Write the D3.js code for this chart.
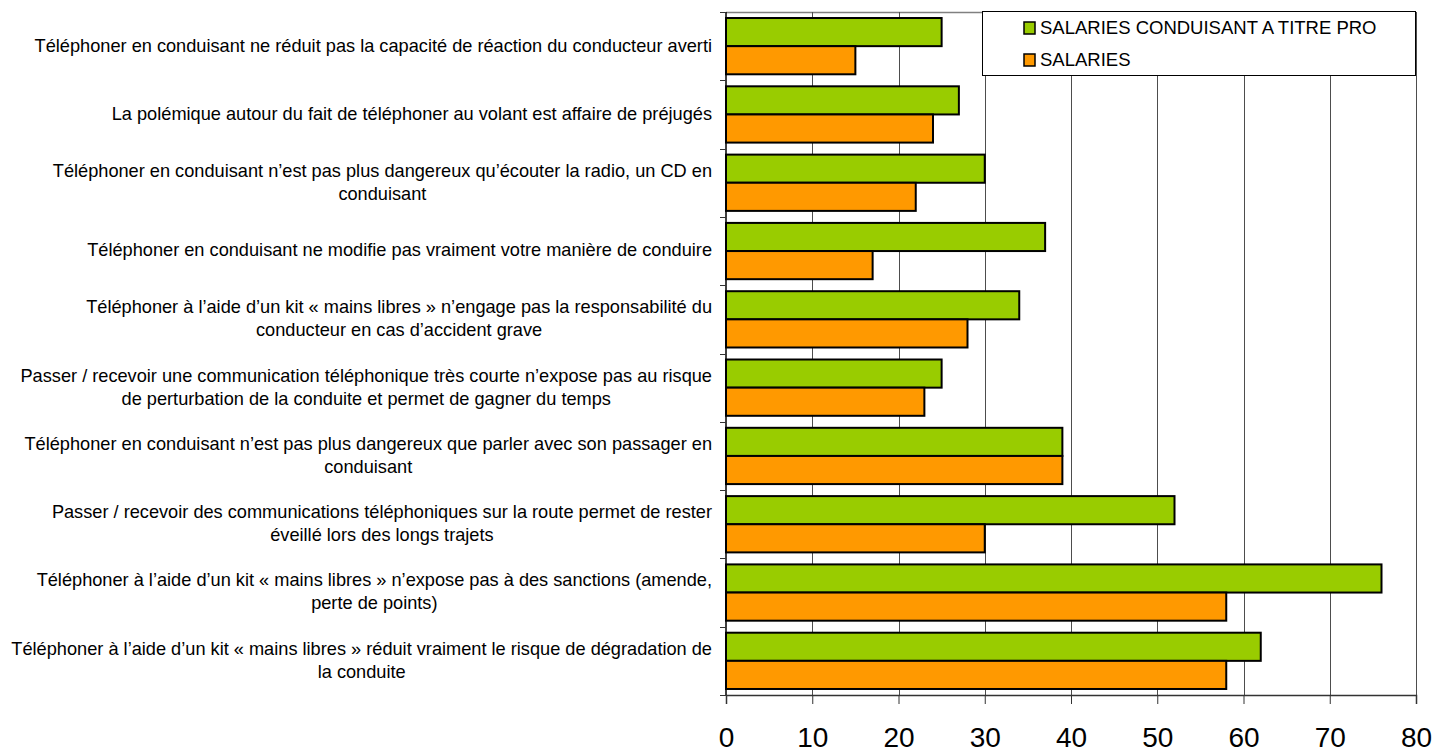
<!DOCTYPE html>
<html>
<head>
<meta charset="utf-8">
<script src="https://cdn.jsdelivr.net/npm/d3@7"></script>
<style>
  html, body { margin: 0; padding: 0; background: #fff; }
  svg { display: block; font-family: "Liberation Sans", Arial, sans-serif; }
</style>
</head>
<body>
<svg id="chart" width="1437" height="754"></svg>
<script>
// Survey statements (top to bottom), each split into its display lines
const statements = [
  ["Téléphoner en conduisant ne réduit pas la capacité de réaction du conducteur averti"],
  ["La polémique autour du fait de téléphoner au volant est affaire de préjugés"],
  ["Téléphoner en conduisant n’est pas plus dangereux qu’écouter la radio, un CD en", "conduisant"],
  ["Téléphoner en conduisant ne modifie pas vraiment votre manière de conduire"],
  ["Téléphoner à l’aide d’un kit « mains libres » n’engage pas la responsabilité du", "conducteur en cas d’accident grave"],
  ["Passer / recevoir une communication téléphonique très courte n’expose pas au risque", "de perturbation de la conduite et permet de gagner du temps"],
  ["Téléphoner en conduisant n’est pas plus dangereux que parler avec son passager en", "conduisant"],
  ["Passer / recevoir des communications téléphoniques sur la route permet de rester", "éveillé lors des longs trajets"],
  ["Téléphoner à l’aide d’un kit « mains libres » n’expose pas à des sanctions (amende,", "perte de points)"],
  ["Téléphoner à l’aide d’un kit « mains libres » réduit vraiment le risque de dégradation de", "la conduite"]
];

const seriesNames = ["SALARIES CONDUISANT A TITRE PRO", "SALARIES"];
const proValues = [25, 27, 30, 37, 34, 25, 39, 52, 76, 62];
const salariesValues = [15, 24, 22, 17, 28, 23, 39, 30, 58, 58];
const xTicks = [0, 10, 20, 30, 40, 50, 60, 70, 80];

const colors = ["#99cc00", "#ff9900"];

const plot = { left: 726, right: 1416, top: 12, bottom: 695 };
const svg = d3.select("#chart");

const x = d3.scaleLinear().domain([0, 80]).range([plot.left, plot.right]);
const y = d3.scaleBand()
  .domain(d3.range(statements.length))
  .range([plot.top, plot.bottom])
  .paddingInner(0.176)
  .paddingOuter(0.088);
const ySub = d3.scaleBand().domain([0, 1]).range([0, y.bandwidth()]);

// Plot frame top edge
svg.append("line")
  .attr("x1", plot.left).attr("x2", plot.right)
  .attr("y1", plot.top + 0.5).attr("y2", plot.top + 0.5)
  .attr("stroke", "#808080").attr("stroke-width", 1.5);

// Vertical gridlines
svg.append("g")
  .selectAll("line")
  .data(xTicks.filter(d => d > 0))
  .join("line")
  .attr("x1", d => Math.round(x(d)) + 0.5)
  .attr("x2", d => Math.round(x(d)) + 0.5)
  .attr("y1", plot.top)
  .attr("y2", plot.bottom)
  .attr("stroke", "#4d4d4d")
  .attr("stroke-width", 1);

// Bars
const series = [proValues, salariesValues];
const groups = svg.append("g")
  .selectAll("g")
  .data(statements)
  .join("g")
  .attr("transform", (d, i) => `translate(0,${y(i)})`);

groups.each(function (d, i) {
  d3.select(this).selectAll("rect")
    .data(series.map((vals, s) => ({ s, v: vals[i] })))
    .join("rect")
    .attr("x", x(0))
    .attr("y", e => ySub(e.s))
    .attr("width", e => x(e.v) - x(0))
    .attr("height", ySub.bandwidth())
    .attr("fill", e => colors[e.s])
    .attr("stroke", "#000")
    .attr("stroke-width", 2);
});

// X axis
const xAxis = d3.axisBottom(x).tickValues(xTicks).tickSize(9).tickFormat(d3.format("d"));
const gx = svg.append("g")
  .attr("transform", `translate(0,${plot.bottom})`)
  .call(xAxis);
gx.select(".domain").attr("stroke", "#333").attr("stroke-width", 1.5);
gx.selectAll(".tick line").attr("stroke", "#333");
gx.selectAll(".tick text")
  .attr("y", 52)
  .attr("dy", 0)
  .attr("fill", "#000")
  .attr("font-size", 28)
  .attr("font-family", "'Liberation Sans', Arial, sans-serif");

// Y axis line with category separators
const yBoundaries = d3.range(statements.length + 1).map(i =>
  i === 0 ? plot.top : i === statements.length ? plot.bottom :
  (y(i - 1) + y.bandwidth() + y(i)) / 2);
svg.append("line")
  .attr("x1", plot.left).attr("x2", plot.left)
  .attr("y1", plot.top).attr("y2", plot.bottom)
  .attr("stroke", "#000").attr("stroke-width", 1.5);
svg.append("g")
  .selectAll("line")
  .data(yBoundaries)
  .join("line")
  .attr("x1", plot.left - 6).attr("x2", plot.left)
  .attr("y1", d => Math.round(d) + 0.5).attr("y2", d => Math.round(d) + 0.5)
  .attr("stroke", "#333");

// Category labels: block right-aligned to the axis, lines centred within the block
const labelRight = 712;
const lineHeight = 23;
const labels = svg.append("g").attr("font-size", 18.2).attr("fill", "#000");
statements.forEach((lines, i) => {
  const cy = y(i) + y.bandwidth() / 2 - 1;
  const g = labels.append("g");
  const texts = lines.map((t, k) => g.append("text")
    .attr("y", cy + (k - (lines.length - 1) / 2) * lineHeight)
    .attr("dy", "0.35em")
    .text(t));
  const widest = d3.max(texts, t => t.node().getComputedTextLength());
  texts.forEach(t => t.attr("x", labelRight - widest / 2).attr("text-anchor", "middle"));
});

// Legend
const legend = svg.append("g");
legend.append("rect")
  .attr("x", 982.5).attr("y", 11.5)
  .attr("width", 433).attr("height", 64)
  .attr("fill", "#fff").attr("stroke", "#000").attr("stroke-width", 1);
seriesNames.forEach((name, s) => {
  const ly = 28 + s * 32;
  legend.append("rect")
    .attr("x", 1024).attr("y", ly - 6)
    .attr("width", 11).attr("height", 12)
    .attr("fill", colors[s]).attr("stroke", "#000").attr("stroke-width", 1.5);
  legend.append("text")
    .attr("x", 1040).attr("y", ly)
    .attr("dy", "0.35em")
    .attr("font-size", 18.5)
    .text(name);
});
</script>
</body>
</html>
